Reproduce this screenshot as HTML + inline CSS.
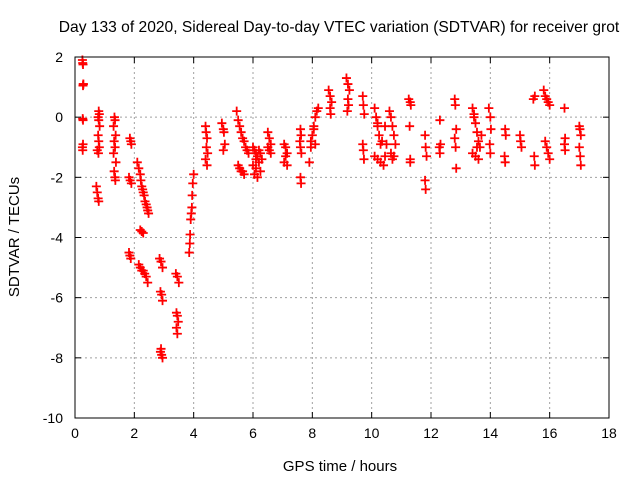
<!DOCTYPE html>
<html><head><meta charset="utf-8"><style>
body{margin:0;background:#fff;}
svg{font-family:"Liberation Sans",sans-serif;}
</style></head><body>
<svg id="chart" width="640" height="480" viewBox="0 0 640 480" xmlns="http://www.w3.org/2000/svg">
<rect width="640" height="480" fill="#fff"/>
<text x="339" y="32" font-size="15.6" text-anchor="middle">Day 133 of 2020, Sidereal Day-to-day VTEC variation (SDTVAR) for receiver grot</text>
<text x="340" y="471" font-size="15" text-anchor="middle">GPS time / hours</text>
<text transform="translate(19,237) rotate(-90)" font-size="15" text-anchor="middle">SDTVAR / TECUs</text>
<g id="grid"></g>
<g id="ticks"></g>
<g id="marks"></g>
<rect x="75" y="57" width="534" height="361" fill="none" stroke="#000" stroke-width="1"/>
</svg>
<script>
const xTicks = [0,2,4,6,8,10,12,14,16,18];
const yTicks = [2,0,-2,-4,-6,-8,-10];
const hours = [
.25,.26,.27,.28,.27,.28,.26,.27,.25,.26,.27,
.8,.82,.78,.8,.83,.78,.8,.82,.75,.79,.72,.75,.78,.8,
1.33,1.35,1.3,1.37,1.32,1.35,1.3,1.38,1.32,1.35,1.36,
1.85,1.88,1.9,1.82,1.86,1.9,1.82,1.85,1.88,
2.1,2.15,2.2,2.22,2.25,2.28,2.3,2.33,2.36,2.4,2.43,2.45,2.48,
2.2,2.25,2.3,2.15,2.2,2.25,2.3,2.35,2.4,2.45,
2.85,2.9,2.95,2.88,2.92,2.95,2.9,2.92,2.95,2.88,
3.4,3.45,3.5,3.42,3.45,3.48,3.45,3.42,
3.85,3.87,3.88,3.9,3.92,3.94,3.95,3.97,4.0,
4.4,4.42,4.45,4.43,4.47,4.4,4.45,
4.95,5.0,5.02,5.05,5.0,
5.45,5.5,5.55,5.6,5.65,5.7,5.75,5.8,5.85,5.5,5.55,5.6,5.65,5.7,
6.0,6.05,6.1,6.15,6.2,6.25,6.0,6.1,6.2,6.3,6.05,6.15,6.25,6.1,
6.5,6.55,6.6,6.5,6.55,6.6,
7.05,7.1,7.15,7.1,7.05,7.15,
7.6,7.62,7.58,7.6,7.63,7.6,7.62,
7.9,7.95,8.0,8.05,8.1,8.15,8.2,7.95,8.05,8.1,
8.55,8.6,8.65,8.6,8.62,
9.15,9.2,9.25,9.2,9.22,9.18,
9.7,9.72,9.75,9.7,9.72,9.74,
10.1,10.15,10.2,10.25,10.3,10.1,10.2,10.3,10.4,10.45,10.5,10.2,10.35,10.45,
10.6,10.65,10.7,10.75,10.8,10.65,10.7,10.75,
11.25,11.3,11.32,11.28,11.3,11.3,
11.8,11.82,11.85,11.8,11.82,
12.3,12.32,12.28,12.3,
12.8,12.82,12.85,12.8,12.83,12.85,
13.4,13.45,13.5,13.55,13.6,13.65,13.4,13.5,13.6,13.7,13.45,13.55,
13.95,14.0,14.02,13.98,14.0,
14.5,14.52,14.48,14.5,
15.0,15.02,15.05,
15.45,15.5,15.48,15.5,
15.8,15.85,15.9,15.95,16.0,15.85,15.9,15.95,16.0,
16.5,16.52,16.5,16.52,
17.0,17.02,17.05,17.0,17.03,17.05];
const sdtvar = [
1.9,1.8,1.75,1.1,1.05,1.1,-0.05,-0.1,-1.0,-1.1,-0.9,
.2,.1,0,-.1,-.3,-.6,-.8,-1,-1.1,-1.2,-2.3,-2.5,-2.7,-2.8,
0,-.1,-.3,-.6,-.8,-1,-1.2,-1.5,-1.8,-2,-2.1,
-.7,-.8,-.9,-2,-2.1,-2.2,-4.5,-4.6,-4.7,
-1.5,-1.7,-1.9,-2.1,-2.3,-2.4,-2.5,-2.6,-2.8,-2.9,-3.0,-3.1,-3.2,
-3.75,-3.8,-3.85,-4.9,-5.0,-5.1,-5.1,-5.2,-5.3,-5.5,
-4.7,-4.8,-5.0,-5.8,-5.9,-6.1,-7.7,-7.9,-8.0,-7.8,
-5.2,-5.3,-5.5,-6.5,-6.6,-6.8,-7.2,-7.0,
-4.5,-4.2,-3.9,-3.4,-3.2,-3.0,-2.6,-2.2,-1.9,
-.3,-.5,-.7,-1,-1.2,-1.4,-1.6,
-.2,-.4,-.5,-.9,-1.1,
.2,-.1,-.3,-.5,-.7,-.8,-1,-1.1,-1.2,-1.6,-1.7,-1.8,-1.8,-1.9,
-1.0,-1.1,-1.2,-1.3,-1.1,-1.2,-1.6,-1.7,-1.5,-1.4,-1.9,-2.0,-1.8,-1.4,
-.5,-.7,-.9,-1.0,-1.1,-1.2,
-.9,-1.0,-1.2,-1.3,-1.5,-1.6,
-.4,-.6,-.8,-1.0,-1.2,-2.0,-2.2,
-1.5,-1.0,-.6,-.3,0,.2,.3,-.8,-.4,-.9,
.9,.7,.5,.3,.1,
1.3,1.1,.9,.6,.4,.2,
.7,.4,.1,-.9,-1.1,-1.4,
.3,0,-.3,-.6,-.9,-1.3,-1.4,-1.5,-1.6,-1.3,-.9,-.2,-.8,-.3,
.2,0,-.3,-.6,-.9,-1.2,-1.4,-1.3,
.6,.5,.4,-.3,-1.4,-1.5,
-.6,-1.0,-1.3,-2.1,-2.4,
-.1,-.9,-1.0,-1.2,
.6,.4,-.4,-.7,-1.0,-1.7,
.3,.1,-.2,-.5,-.8,-1.0,-1.2,-1.3,-1.4,-.6,0,-1.0,
.3,0,-.4,-.9,-1.2,
-.4,-.6,-1.3,-1.5,
-.6,-.8,-1.0,
.6,.7,-1.3,-1.6,
.9,.7,.6,.5,.4,-.8,-1.0,-1.2,-1.4,
.3,-.7,-.9,-1.1,
-.3,-.4,-.6,-1.0,-1.3,-1.6];
const NS='http://www.w3.org/2000/svg';
const L=75,R=609,T=57,B=418;
function xs(t){return L+(t-0)/(18-0)*(R-L);}
function ys(v){return T+(2-v)/(2-(-10))*(B-T);}
function mk(tag,attrs,parent){const e=document.createElementNS(NS,tag);for(const k in attrs)e.setAttribute(k,attrs[k]);parent.appendChild(e);return e;}
const grid=document.getElementById('grid'),ticks=document.getElementById('ticks'),marks=document.getElementById('marks');
xTicks.forEach(t=>{const x=xs(t);
 if(t>0&&t<18){const g=mk('line',{x1:x,x2:x,y1:T,y2:B,stroke:'#a0a0a0','stroke-dasharray':'2,3'},grid);
 
 }
 mk('line',{x1:x,x2:x,y1:B,y2:B-6,stroke:'#000'},ticks);
 mk('line',{x1:x,x2:x,y1:T,y2:T+6,stroke:'#000'},ticks);
 const lb=mk('text',{x:x,y:B+20,'font-size':14,'text-anchor':'middle'},ticks);lb.textContent=t;
 
 
});
yTicks.forEach(v=>{const y=ys(v);
 if(v<2&&v>-10){const g=mk('line',{x1:L,x2:R,y1:y,y2:y,stroke:'#a0a0a0','stroke-dasharray':'2,3'},grid);
 
 }
 mk('line',{x1:L,x2:L+6,y1:y,y2:y,stroke:'#000'},ticks);
 mk('line',{x1:R,x2:R-6,y1:y,y2:y,stroke:'#000'},ticks);
 const lb=mk('text',{x:L-12,y:y+5,'font-size':14,'text-anchor':'end'},ticks);lb.textContent=v;
 
 
});
hours.forEach((t,i)=>{const x=xs(t),y=ys(sdtvar[i]);
 const p=mk('path',{d:`M${x-4.5},${y}H${x+4.5}M${x},${y-4.5}V${y+4.5}`,stroke:'#ff0000','stroke-width':1.8,fill:'none'},marks);
 
 
});
</script>
</body></html>
